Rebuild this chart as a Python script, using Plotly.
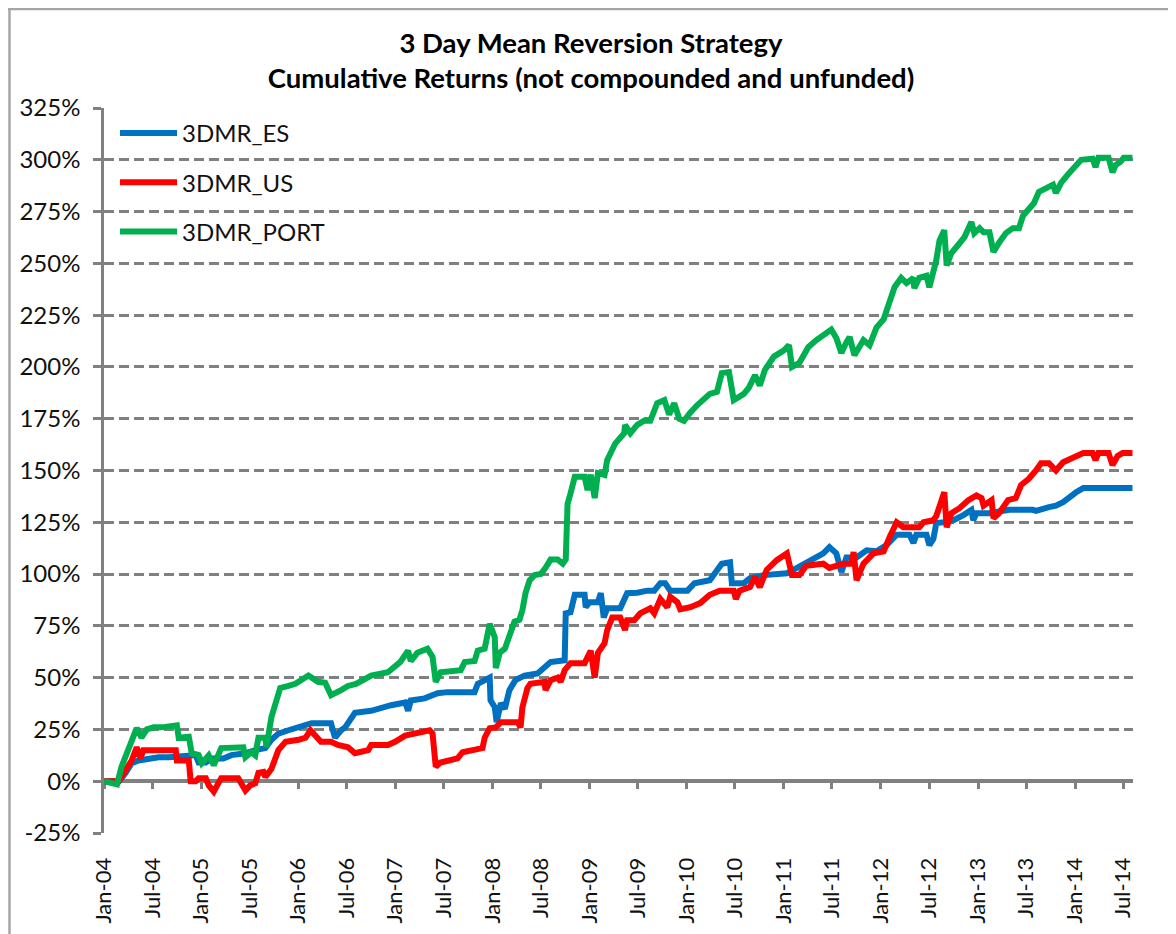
import plotly.graph_objects as go

# ---------------- data (cumulative return, %) ----------------
es_dates = ["2004-01-01","2004-02-26","2004-03-22","2004-04-14","2004-05-10","2004-06-17","2004-07-24","2004-09-01",
"2004-11-04","2004-12-11","2004-12-22","2005-01-18","2005-02-10","2005-03-25","2005-04-24","2005-06-16","2005-07-23",
"2005-08-30","2005-09-22","2005-10-18","2005-11-25","2006-01-02","2006-02-20","2006-05-04","2006-05-19","2006-06-11",
"2006-06-26","2006-08-02","2006-10-02","2006-12-16","2007-02-07","2007-02-18","2007-02-28","2007-04-21","2007-06-09",
"2007-07-16","2007-10-26","2007-11-07","2007-12-03","2007-12-22","2007-12-25","2008-01-10","2008-01-17","2008-02-02",
"2008-02-17","2008-03-05","2008-03-28","2008-05-01","2008-06-19","2008-07-15","2008-08-07","2008-09-29","2008-10-03",
"2008-10-21","2008-11-06","2008-12-13","2008-12-17","2009-01-01","2009-02-01","2009-02-12","2009-02-23","2009-03-08",
"2009-04-26","2009-05-22","2009-06-29","2009-08-06","2009-09-01","2009-09-24","2009-10-12","2009-10-31","2010-01-04",
"2010-01-30","2010-03-29","2010-05-02","2010-05-13","2010-06-13","2010-06-20","2010-08-04","2010-08-27","2010-10-18",
"2010-12-06","2011-01-13","2011-02-20","2011-04-08","2011-05-30","2011-06-22","2011-07-18","2011-08-06","2011-08-25",
"2011-10-02","2011-11-09","2011-12-16","2012-01-23","2012-03-01","2012-04-18","2012-05-03","2012-05-14","2012-06-21",
"2012-07-02","2012-07-17","2012-07-28","2012-08-24","2012-10-01","2012-11-07","2012-12-07","2012-12-14","2012-12-26",
"2013-02-13","2013-04-28","2013-07-26","2013-08-07","2013-09-25","2013-10-21","2013-11-17","2013-12-09","2014-01-05",
"2014-02-01","2014-08-05"]
es_values = [0,0,4,8.7,10,11,11.6,11.6,
12.6,12.6,9,9,11,11,12.6,13.5,15,
16,20,23,24.6,26,28,28,21,24.6,
26,33,34,36.7,38,34,39,40,42.5,
43,43,47,48.8,50,39,35.7,28.5,37.7,
35,44,48.8,51,52,55,57.5,58.4,81,
81.6,90,90,84,86.4,86.4,90.8,79,83.5,
83.5,90.8,91,92,92,95.6,95.6,92,92,
95.6,97,103,105,105.7,95.6,95.6,98,99.5,
100.4,100.4,103,106.7,110,113,110,101,108,
108,111.5,111,114,119,119,115,119,119,
114,117,124.6,125,126,128.5,131,126,129.4,
129.4,131,131,130.5,132.3,133,134.7,137,139.5,
141.5,141.5]

us_dates = ["2004-01-01","2004-02-26","2004-03-22","2004-04-14","2004-05-03","2004-05-17","2004-05-28","2004-06-28",
"2004-09-27","2004-10-01","2004-11-15","2004-11-22","2004-12-11","2004-12-22","2005-01-18","2005-01-29","2005-02-17",
"2005-03-06","2005-03-17","2005-05-20","2005-06-01","2005-06-16","2005-07-04","2005-07-23","2005-08-04","2005-08-23",
"2005-08-30","2005-09-22","2005-10-18","2005-11-14","2006-01-02","2006-01-28","2006-02-16","2006-03-05","2006-03-27",
"2006-05-04","2006-05-30","2006-07-07","2006-08-02","2006-09-21","2006-10-02","2006-12-04","2006-12-31","2007-02-07",
"2007-03-14","2007-04-21","2007-05-10","2007-05-21","2007-06-02","2007-06-20","2007-08-23","2007-09-11","2007-11-07",
"2007-11-25","2007-12-03","2007-12-22","2008-01-14","2008-02-02","2008-04-05","2008-04-16","2008-04-23","2008-05-12",
"2008-05-23","2008-07-15","2008-07-19","2008-08-07","2008-09-03","2008-09-14","2008-09-29","2008-10-21","2008-12-13",
"2009-01-05","2009-01-20","2009-02-01","2009-02-26","2009-03-08","2009-03-27","2009-04-26","2009-05-14","2009-05-22",
"2009-06-18","2009-07-10","2009-08-17","2009-09-01","2009-09-24","2009-10-20","2009-10-31","2009-11-27","2009-12-08",
"2010-01-15","2010-02-21","2010-03-29","2010-05-05","2010-06-27","2010-07-05","2010-07-19","2010-08-27","2010-09-15",
"2010-10-03","2010-10-29","2010-12-06","2011-01-13","2011-02-01","2011-03-01","2011-03-27","2011-05-30","2011-06-22",
"2011-08-14","2011-09-13","2011-09-21","2011-10-02","2011-10-28","2011-12-05","2012-01-12","2012-02-04","2012-03-01",
"2012-03-26","2012-05-25","2012-06-10","2012-07-17","2012-07-28","2012-08-16","2012-08-27","2012-09-05","2012-09-23",
"2012-10-23","2012-11-26","2012-12-26","2013-01-14","2013-01-22","2013-02-21","2013-02-28","2013-03-21","2013-04-24",
"2013-05-23","2013-06-12","2013-07-11","2013-08-07","2013-08-26","2013-09-25","2013-10-21","2013-11-17","2013-12-24",
"2014-02-01","2014-03-08","2014-03-19","2014-03-30","2014-05-07","2014-05-22","2014-06-10","2014-06-29","2014-08-05"]
us_values = [0,0,5.3,10,16.4,11,15,15,
15,10,10,0,0,1.4,1.4,-2,-5,
-1,1.4,1.4,-2,-4.5,-2,-1,4,4.5,
2,6,15,19,20,21,24.6,22,19,
19,17.5,16.4,13.5,15,17.5,17.5,19,22,
23,23.7,24.6,23,7,9,11,14,15,
16,21,25.6,26,28.5,28.5,26,35.7,45,
47,48,44,48.8,50,48,53.6,57,57,
63,50,62,66.6,73,79,79,73,77.7,
77.7,81,83.5,81,88,84,89,86.4,83,
84,86,90,92,92,88,92,93.7,98.5,
93.7,102,106.7,110,99.5,99.5,104,105,103,
105,105,110.6,97,105,110,111,118,125,
122.6,122.6,125,126,128,135.7,139.5,122.6,129.4,
131.8,135.7,138,136.7,133,135.7,127,129.4,135.7,
136.7,143,146,150,153.5,153.5,150,154,156.5,
158.4,158.4,155,158.4,158.4,152.6,157,158.4,158.4]

port_dates = ["2004-01-01","2004-02-19","2004-03-07","2004-04-03","2004-04-14","2004-05-03","2004-05-21","2004-06-10",
"2004-07-06","2004-08-05","2004-10-01","2004-10-08","2004-11-15","2004-11-26","2004-12-22","2005-01-03","2005-01-29",
"2005-02-17","2005-03-17","2005-04-24","2005-06-08","2005-06-16","2005-07-08","2005-07-23","2005-08-04","2005-08-30",
"2005-09-03","2005-09-22","2005-10-25","2005-11-25","2005-12-21","2006-02-08","2006-03-16","2006-04-12","2006-05-04",
"2006-06-11","2006-07-07","2006-08-06","2006-10-02","2006-12-04","2007-01-19","2007-02-18","2007-02-28","2007-03-25",
"2007-05-02","2007-05-21","2007-06-02","2007-06-20","2007-09-04","2007-09-19","2007-10-26","2007-11-07","2007-12-03",
"2007-12-22","2008-01-10","2008-01-14","2008-01-29","2008-02-17","2008-03-05","2008-03-24","2008-04-12","2008-04-23",
"2008-05-05","2008-05-20","2008-06-08","2008-07-01","2008-07-19","2008-08-07","2008-09-03","2008-09-22","2008-10-03",
"2008-10-10","2008-10-17","2008-11-06","2008-12-13","2008-12-24","2009-01-05","2009-01-20","2009-02-01","2009-02-26",
"2009-03-08","2009-03-27","2009-04-07","2009-05-11","2009-05-14","2009-06-03","2009-06-29","2009-07-25","2009-08-17",
"2009-09-12","2009-10-09","2009-10-27","2009-11-15","2009-12-04","2009-12-22","2010-01-15","2010-02-10","2010-03-29",
"2010-04-25","2010-05-13","2010-06-09","2010-06-27","2010-08-04","2010-08-23","2010-09-15","2010-10-03","2010-10-22",
"2010-11-25","2011-01-02","2011-01-21","2011-02-01","2011-03-01","2011-04-04","2011-05-04","2011-06-11","2011-06-29",
"2011-07-18","2011-08-06","2011-08-25","2011-09-06","2011-09-24","2011-10-28","2011-11-20","2011-12-16","2012-01-12",
"2012-02-04","2012-02-22","2012-03-18","2012-04-07","2012-05-03","2012-05-06","2012-05-25","2012-06-21","2012-07-02",
"2012-07-28","2012-08-09","2012-08-27","2012-09-05","2012-09-23","2012-10-19","2012-11-11","2012-12-07","2012-12-18",
"2013-01-07","2013-01-22","2013-02-13","2013-02-28","2013-03-21","2013-04-16","2013-05-12","2013-06-04","2013-06-19",
"2013-07-11","2013-07-30","2013-08-18","2013-09-14","2013-10-10","2013-10-21","2013-11-10","2013-12-06","2013-12-28",
"2014-01-24","2014-03-08","2014-03-19","2014-03-30","2014-05-07","2014-05-22","2014-06-03","2014-06-21","2014-07-03",
"2014-08-05"]
port_values = [0,-1.5,7,15,20,25.6,21,25,
26,26,27,21,21.5,13.5,12.6,8.7,12.5,
7.7,16,16.4,16.4,11.6,14,12.5,21,21,
16.4,31,45,46,47,51,48,47.5,41.5,
44,46,47,51,52.6,57.5,63,58,62,
64,60,48,52.6,53.6,57.5,58,63,64,
76,69.5,54.6,62,64,69.5,77,78,82.6,
91,97,99.5,100,103,107,107,105,107,
134,137,147,147,140.5,148,136.7,148.7,147.8,
155,160,163,168,172,168,172,174,174,
182.5,184,177,182.5,175,174,178,181.6,187,
188,197,197.5,184,187,190,196,191,198.5,
205,208,210.5,200,202,209.6,213,216,218,
214,206.7,212,214.4,205.7,213,210.5,219,223,
231,238.5,243,240.5,243,238,243,244,238.5,
251.6,261,266,249,255,259,262.7,270,264.6,
267,265,265,255.5,260,264.6,267,267,273,
276,279,284.5,286,288,284,289,293,296,
300,300.5,296.5,301,301,294,297.5,299,301,
301]

series_names = ["3DMR_ES", "3DMR_US", "3DMR_PORT"]
series_colors = ["#0070C0", "#FF0000", "#00B050"]

y_ticks = [-25, 0, 25, 50, 75, 100, 125, 150, 175, 200, 225, 250, 275, 300, 325]
x_ticks = ["2004-01-01","2004-07-01","2005-01-01","2005-07-01","2006-01-01","2006-07-01","2007-01-01",
           "2007-07-01","2008-01-01","2008-07-01","2009-01-01","2009-07-01","2010-01-01","2010-07-01",
           "2011-01-01","2011-07-01","2012-01-01","2012-07-01","2013-01-01","2013-07-01","2014-01-01","2014-07-01"]
x_ticktext = ["Jan-04","Jul-04","Jan-05","Jul-05","Jan-06","Jul-06","Jan-07","Jul-07","Jan-08","Jul-08",
              "Jan-09","Jul-09","Jan-10","Jul-10","Jan-11","Jul-11","Jan-12","Jul-12","Jan-13","Jul-13",
              "Jan-14","Jul-14"]

# ---------------- figure ----------------
FONT = "Lato"
GRID = "#808080"
X_RANGE = ["2004-01-01", "2014-08-07"]
Y_RANGE = [-25, 325]

W, H = 1168, 926
ML, MR, MT, MB = 96, 43, 100, 101
PW, PH = W - ML - MR, H - MT - MB


def px(x):
    return (x - ML) / PW


def py(y):
    return (H - MB - y) / PH


fig = go.Figure()
for name, color, xs, ys in zip(series_names, series_colors,
                               [es_dates, us_dates, port_dates],
                               [es_values, us_values, port_values]):
    fig.add_trace(go.Scatter(x=xs, y=ys, name=name, mode="lines", legendgroup=name,
                             line=dict(color=color, width=6)))

# invisible trace carrying the horizontal axis at 0%
fig.add_trace(go.Scatter(x=[X_RANGE[0]], y=[0], xaxis="x2", mode="markers",
                         marker=dict(opacity=0), showlegend=False, hoverinfo="skip"))

fig.update_layout(
    width=W, height=H,
    margin=dict(l=ML, r=MR, t=MT, b=MB, autoexpand=False),
    paper_bgcolor="white", plot_bgcolor="white",
    font=dict(family=FONT, size=24, color="#111111"),
    title=dict(text="<b>3 Day Mean Reversion Strategy<br>Cumulative Returns (not compounded and unfunded)</b>",
               x=583 / W, xanchor="center", y=1 - 44.5 / H, yanchor="middle", yref="container",
               font=dict(family=FONT, size=27.5, color="#000000")),
    showlegend=True,
    legend=dict(x=px(107), y=py(103), xanchor="left", yanchor="top", bgcolor="rgba(0,0,0,0)",
                font=dict(family=FONT, size=24, color="#111111"), tracegroupgap=15,
                itemwidth=57),
    hovermode=False,
    xaxis=dict(type="date", range=X_RANGE, tickvals=x_ticks, ticktext=x_ticktext, tickangle=-90,
               showgrid=False, showline=False, zeroline=False, ticks="outside", ticklen=15,
               automargin=False,
               tickcolor="rgba(0,0,0,0)", tickfont=dict(family=FONT, size=22, color="#111111")),
    xaxis2=dict(type="date", range=X_RANGE, overlaying="x", anchor="free",
                position=(0 - Y_RANGE[0]) / (Y_RANGE[1] - Y_RANGE[0]),
                tickvals=x_ticks, showticklabels=False, showgrid=False, zeroline=False,
                showline=True, linecolor=GRID, linewidth=4, ticks="outside", ticklen=6,
                tickwidth=2.5, tickcolor=GRID, layer="below traces", automargin=False),
    yaxis=dict(range=Y_RANGE, tickvals=y_ticks, ticktext=[f"{v}%" for v in y_ticks],
               showgrid=True, gridcolor=GRID, gridwidth=2.5, griddash="10px,5px", zeroline=False,
               showline=True, linecolor=GRID, linewidth=2.5, ticks="outside", ticklen=8,
               tickwidth=2.5, tickcolor=GRID, ticklabelstandoff=8, automargin=False,
               tickfont=dict(family=FONT, size=24, color="#111111")),
    shapes=[
        dict(type="line", xref="paper", yref="paper", x0=px(1.5), x1=px(1.5),
             y0=py(0), y1=py(H), line=dict(color="#A6A6A6", width=2.5)),
        dict(type="line", xref="paper", yref="paper", x0=px(0), x1=px(W),
             y0=py(1), y1=py(1), line=dict(color="#A6A6A6", width=2.5)),
    ],
)

fig.write_html("out.html")
